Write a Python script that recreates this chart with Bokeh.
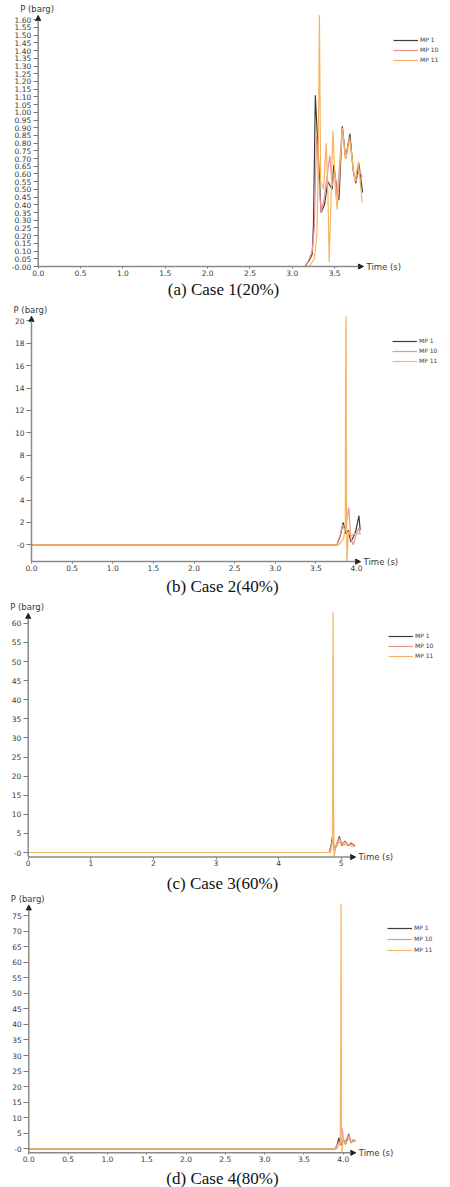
from bokeh.plotting import figure
from bokeh.models import FixedTicker, Label, Arrow, NormalHead, Legend, LegendItem
from bokeh.layouts import column
from bokeh.embed import file_html
from bokeh.resources import INLINE

SERIES = ["MP 1", "MP 10", "MP 11"]
COLORS = ["#3d3d3d", "#ee9292", "#f5b45f"]

# ---------------- Case 1 (20%) ----------------
c1_mp1_t = [0.0, 3.15, 3.20, 3.235, 3.25, 3.272, 3.30, 3.34, 3.38, 3.42, 3.45, 3.47, 3.49, 3.53, 3.55, 3.59, 3.63, 3.68, 3.72, 3.75, 3.785, 3.83]
c1_mp1_p = [0.0, 0.0, 0.04, 0.08, 0.27, 1.11, 0.80, 0.35, 0.40, 0.55, 0.52, 0.50, 0.66, 0.48, 0.43, 0.91, 0.70, 0.86, 0.62, 0.54, 0.67, 0.48]
c1_mp10_t = [0.0, 3.16, 3.20, 3.235, 3.26, 3.286, 3.31, 3.34, 3.38, 3.443, 3.47, 3.50, 3.53, 3.59, 3.63, 3.675, 3.72, 3.75, 3.79, 3.83]
c1_mp10_p = [0.0, 0.0, 0.05, 0.10, 0.25, 0.84, 0.60, 0.35, 0.45, 0.72, 0.52, 0.62, 0.45, 0.90, 0.70, 0.84, 0.62, 0.55, 0.62, 0.58]
c1_mp11_t = [0.0, 3.20, 3.26, 3.29, 3.305, 3.32, 3.335, 3.37, 3.40, 3.42, 3.435, 3.48, 3.51, 3.53, 3.59, 3.63, 3.68, 3.74, 3.78, 3.825]
c1_mp11_p = [0.0, 0.0, 0.05, 0.20, 0.60, 1.63, 0.55, 0.50, 0.80, 0.50, 0.03, 0.88, 0.48, 0.37, 0.88, 0.70, 0.82, 0.55, 0.68, 0.41]
c1_xticks = [0.0, 0.5, 1.0, 1.5, 2.0, 2.5, 3.0, 3.5]
c1_xlabels = ["0.0", "0.5", "1.0", "1.5", "2.0", "2.5", "3.0", "3.5"]
c1_yticks = [0.0, 0.05, 0.1, 0.15, 0.2, 0.25, 0.3, 0.35, 0.4, 0.45, 0.5, 0.55, 0.6, 0.65, 0.7, 0.75, 0.8,
             0.85, 0.9, 0.95, 1.0, 1.05, 1.1, 1.15, 1.2, 1.25, 1.3, 1.35, 1.4, 1.45, 1.5, 1.55, 1.6]
c1_ylabels = ["-0.00", "0.05", "0.10", "0.15", "0.20", "0.25", "0.30", "0.35", "0.40", "0.45", "0.50", "0.55",
              "0.60", "0.65", "0.70", "0.75", "0.80", "0.85", "0.90", "0.95", "1.00", "1.05", "1.10", "1.15",
              "1.20", "1.25", "1.30", "1.35", "1.40", "1.45", "1.50", "1.55", "1.60"]

# ---------------- Case 2 (40%) ----------------
c2_mp1_t = [0.0, 3.76, 3.80, 3.836, 3.85, 3.87, 3.90, 3.93, 3.96, 3.99, 4.03, 4.045]
c2_mp1_p = [0.0, 0.0, 0.8, 2.0, 1.6, 1.0, 1.3, 0.25, 0.7, 1.2, 2.6, 1.3]
c2_mp10_t = [0.0, 3.76, 3.80, 3.83, 3.86, 3.905, 3.93, 3.96, 4.00, 4.03, 4.045]
c2_mp10_p = [0.0, 0.0, 0.9, 1.8, 1.2, 3.35, 0.5, 0.0, 1.0, 1.5, 0.9]
c2_mp11_t = [0.0, 3.78, 3.84, 3.862, 3.868, 3.872, 3.876, 3.882, 3.90, 3.93, 3.98, 4.04]
c2_mp11_p = [0.0, 0.0, 0.5, 1.5, 19.0, 20.4, 5.0, -1.5, 1.2, 0.8, 1.0, 1.0]
c2_xticks = [0.0, 0.5, 1.0, 1.5, 2.0, 2.5, 3.0, 3.5, 4.0]
c2_xlabels = ["0.0", "0.5", "1.0", "1.5", "2.0", "2.5", "3.0", "3.5", "4.0"]
c2_yticks = [0, 2, 4, 6, 8, 10, 12, 14, 16, 18, 20]
c2_ylabels = ["-0", "2", "4", "6", "8", "10", "12", "14", "16", "18", "20"]

# ---------------- Case 3 (60%) ----------------
c3_mp1_t = [0.0, 4.81, 4.84, 4.86, 4.89, 4.93, 4.97, 5.01, 5.06, 5.11, 5.16, 5.22]
c3_mp1_p = [0.0, 0.0, 2.0, 4.0, 0.5, 2.0, 4.2, 1.8, 3.0, 1.8, 2.5, 1.7]
c3_mp10_t = [0.0, 4.81, 4.84, 4.865, 4.89, 4.93, 4.975, 5.01, 5.06, 5.11, 5.16, 5.22]
c3_mp10_p = [0.0, 0.0, 1.5, 3.5, 0.8, 2.5, 3.8, 2.0, 2.8, 2.0, 2.3, 1.9]
c3_mp11_t = [0.0, 4.83, 4.862, 4.866, 4.870, 4.874, 4.885, 4.91, 4.95, 5.0, 5.05, 5.1, 5.15, 5.2]
c3_mp11_p = [0.0, 0.0, 3.0, 48.0, 62.9, 20.0, -1.2, 1.0, 2.5, 3.0, 2.0, 2.2, 1.8, 1.5]
c3_xticks = [0, 1, 2, 3, 4, 5]
c3_xlabels = ["0", "1", "2", "3", "4", "5"]
c3_yticks = [0, 5, 10, 15, 20, 25, 30, 35, 40, 45, 50, 55, 60]
c3_ylabels = ["-0", "5", "10", "15", "20", "25", "30", "35", "40", "45", "50", "55", "60"]

# ---------------- Case 4 (80%) ----------------
c4_mp1_t = [0.0, 3.90, 3.925, 3.945, 3.97, 4.00, 4.03, 4.07, 4.10, 4.13, 4.157]
c4_mp1_p = [0.0, 0.0, 1.5, 3.5, 1.2, 3.0, 1.5, 4.8, 2.0, 2.8, 2.4]
c4_mp10_t = [0.0, 3.90, 3.94, 3.965, 3.987, 4.01, 4.04, 4.07, 4.10, 4.13, 4.157]
c4_mp10_p = [0.0, 0.0, 2.0, 1.5, 6.6, 2.0, 3.0, 4.5, 1.8, 3.0, 2.3]
c4_mp11_t = [0.0, 3.92, 3.962, 3.968, 3.972, 3.976, 3.985, 4.00, 4.03, 4.07, 4.10, 4.157]
c4_mp11_p = [0.0, 0.0, 2.0, 33.2, 78.8, 10.0, -1.3, 3.0, 1.5, 3.5, 2.0, 2.5]
c4_xticks = [0.0, 0.5, 1.0, 1.5, 2.0, 2.5, 3.0, 3.5, 4.0]
c4_xlabels = ["0.0", "0.5", "1.0", "1.5", "2.0", "2.5", "3.0", "3.5", "4.0"]
c4_yticks = [0, 5, 10, 15, 20, 25, 30, 35, 40, 45, 50, 55, 60, 65, 70, 75]
c4_ylabels = ["-0", "5", "10", "15", "20", "25", "30", "35", "40", "45", "50", "55", "60", "65", "70", "75"]

CAPTIONS = ["(a) Case 1(20%)", "(b) Case 2(40%)", "(c) Case 3(60%)", "(d) Case 4(80%)"]

TICK_FONT = "DejaVu Sans"
TEXT_COLOR = "#3a3a3a"
W = 450


def panel(caption, ts, ps, xticks, xlabels, yticks, ylabels, top, height,
          ox, xs, oy, ys, y0, tip_x, tip_y, legend_xy, spacing, caption_xy):
    # ox, oy: page pixel of (t=0, P=0); xs, ys: pixels per unit
    x_range = (-ox / xs, (W - ox) / xs)
    y_range = ((oy - (top + height)) / ys, (oy - top) / ys)
    p = figure(width=W, height=height, x_range=x_range, y_range=y_range,
               output_backend="svg", toolbar_location=None, title=None,
               min_border_left=0, min_border_right=0, min_border_top=0, min_border_bottom=0)
    p.outline_line_color = None
    p.xgrid.visible = False
    p.ygrid.visible = False
    p.background_fill_color = "white"
    p.border_fill_color = "white"

    for ax, ticks, labels in ((p.xaxis[0], xticks, xlabels), (p.yaxis[0], yticks, ylabels)):
        ax.ticker = FixedTicker(ticks=ticks)
        ax.major_label_overrides = dict(zip(ticks, labels))
        ax.axis_line_color = None
        ax.major_tick_line_color = "#777777"
        ax.major_tick_in = 0
        ax.minor_tick_line_color = None
        ax.major_label_text_font = TICK_FONT
        ax.major_label_text_font_size = "7.5px"
        ax.major_label_text_color = TEXT_COLOR
    p.xaxis.fixed_location = y0
    p.yaxis.fixed_location = 0
    p.xaxis.major_tick_out = 2
    p.xaxis.major_label_standoff = 1
    p.yaxis.major_tick_out = 5
    p.yaxis.major_label_standoff = 2

    items = []
    for name, color, t, v in zip(SERIES, COLORS, ts, ps):
        r = p.line(t, v, line_color=color, line_width=1.2)
        items.append(LegendItem(label=name, renderers=[r]))

    legend = Legend(items=items, location=legend_xy, padding=0, margin=0, spacing=spacing,
                    glyph_width=25, glyph_height=6, label_height=6, label_standoff=2,
                    label_text_font=TICK_FONT, label_text_font_size="6px",
                    label_text_color=TEXT_COLOR, border_line_alpha=0, background_fill_alpha=0)
    p.add_layout(legend)

    head = dict(size=5, fill_color="#222222", line_color="#222222")
    p.add_layout(Arrow(end=NormalHead(**head), x_start=0, y_start=y0, x_end=tip_x, y_end=y0,
                       line_color="#8a8a8a", line_width=1.5))
    p.add_layout(Arrow(end=NormalHead(**head), x_start=0, y_start=y0, x_end=0, y_end=tip_y,
                       line_color="#8a8a8a", line_width=1.5))

    p.add_layout(Label(x=tip_x, y=y0, x_offset=3, text="Time (s)", text_baseline="middle",
                       text_font=TICK_FONT, text_font_size="8.5px", text_color=TEXT_COLOR))
    p.add_layout(Label(x=0, y=tip_y, x_offset=-18, y_offset=6, text="P (barg)", text_baseline="middle",
                       text_font=TICK_FONT, text_font_size="8.5px", text_color=TEXT_COLOR))
    p.add_layout(Label(x=caption_xy[0], y=caption_xy[1], x_units="screen", y_units="screen",
                       text=caption, text_align="center", text_baseline="middle",
                       text_font="Liberation Serif", text_font_size="17px", text_color="#111111"))
    return p


p1 = panel(CAPTIONS[0], [c1_mp1_t, c1_mp10_t, c1_mp11_t], [c1_mp1_p, c1_mp10_p, c1_mp11_p],
           c1_xticks, c1_xlabels, c1_yticks, c1_ylabels, top=0, height=300,
           ox=37.7, xs=84.7, oy=266.0, ys=154.2, y0=0.0, tip_x=3.84, tip_y=1.628,
           legend_xy=(393, 237), spacing=3, caption_xy=(223, 11))
p2 = panel(CAPTIONS[1], [c2_mp1_t, c2_mp10_t, c2_mp11_t], [c2_mp1_p, c2_mp10_p, c2_mp11_p],
           c2_xticks, c2_xlabels, c2_yticks, c2_ylabels, top=300, height=297,
           ox=31.0, xs=81.25, oy=544.3, ys=11.2, y0=-1.5, tip_x=4.05, tip_y=20.4,
           legend_xy=(392, 233), spacing=3, caption_xy=(222, 11.5))
p3 = panel(CAPTIONS[2], [c3_mp1_t, c3_mp10_t, c3_mp11_t], [c3_mp1_p, c3_mp10_p, c3_mp11_p],
           c3_xticks, c3_xlabels, c3_yticks, c3_ylabels, top=597, height=296,
           ox=27.7, xs=62.6, oy=852.0, ys=3.82, y0=-1.2, tip_x=5.23, tip_y=62.6,
           legend_xy=(388, 234), spacing=3, caption_xy=(222, 10))
p4 = panel(CAPTIONS[3], [c4_mp1_t, c4_mp10_t, c4_mp11_t], [c4_mp1_p, c4_mp10_p, c4_mp11_p],
           c4_xticks, c4_xlabels, c4_yticks, c4_ylabels, top=893, height=294,
           ox=28.3, xs=78.6, oy=1148.3, ys=3.11, y0=-1.3, tip_x=4.16, tip_y=78.4,
           legend_xy=(387, 234), spacing=4, caption_xy=(222, 9.5))

layout = column(p1, p2, p3, p4, spacing=0)
open("out.html", "w").write(file_html(layout, INLINE))
